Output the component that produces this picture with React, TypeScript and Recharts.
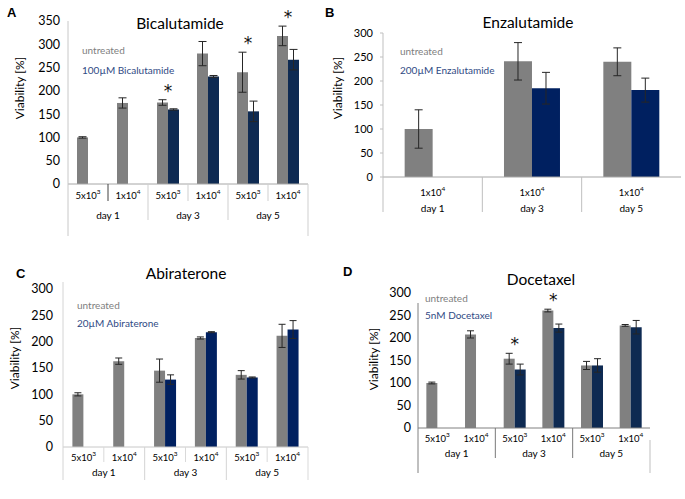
import React from 'react';
import { ComposedChart, Bar, XAxis, YAxis, ErrorBar, LabelList } from 'recharts';

const FONT = 'Lato, "Open Sans", sans-serif';
const GRAY = '#808080';
const NAVY = '#0e2a52';
const DARK_BLUE = '#002060';
const LEGEND_BLUE = '#2f4a84';

// ---- A: Bicalutamide ----
const sizesA = ['5x10^3', '1x10^4', '5x10^3', '1x10^4', '5x10^3', '1x10^4'];
const daysA = ['day 1', 'day 3', 'day 5'];
const untreatedA = [100, 174, 175, 280, 240, 318];
const untreatedErrA = [1.5, 11, 6, 26, 43, 21];
const bicaA = [null, null, 160, 231, 156, 267];
const bicaErrA = [null, null, 1.5, 2, 22, 22];
const starsA = [false, false, true, false, true, true];
const ticksA = [0, 50, 100, 150, 200, 250, 300, 350];

// ---- B: Enzalutamide ----
const sizesB = ['1x10^4', '1x10^4', '1x10^4'];
const daysB = ['day 1', 'day 3', 'day 5'];
const untreatedB = [100, 241, 240];
const untreatedErrB = [40, 39, 29];
const enzaB = [null, 185, 181];
const enzaErrB = [null, 33, 25];
const ticks300 = [0, 50, 100, 150, 200, 250, 300];

// ---- C: Abiraterone ----
const sizesC = ['5x10^3', '1x10^4', '5x10^3', '1x10^4', '5x10^3', '1x10^4'];
const daysC = ['day 1', 'day 3', 'day 5'];
const untreatedC = [100, 163, 145, 207, 137, 211];
const untreatedErrC = [3, 6, 22, 2, 8, 22];
const abiC = [null, null, 128, 218, 132, 223];
const abiErrC = [null, null, 9, 1, 1, 17];

// ---- D: Docetaxel ----
const sizesD = ['5x10^3', '1x10^4', '5x10^3', '1x10^4', '5x10^3', '1x10^4'];
const daysD = ['day 1', 'day 3', 'day 5'];
const untreatedD = [100, 208, 154, 261, 139, 228];
const untreatedErrD = [2, 8, 12, 3, 9, 2];
const doceD = [null, null, 130, 222, 139, 224];
const doceErrD = [null, null, 12, 9, 15, 15];
const starsD = [false, false, true, true, false, false];

type Frame = {
  axisTop: number;
  leftBottom: number;
  innerBottom?: number;
  dayBottom: number;
  rightTop?: number;
  axisColor: string;
  dayColor: string;
  innerColor: string;
  firstInnerColor?: string;
  sizeY: number;
  dayY: number;
};

type Panel = {
  left: number;
  top: number;
  width: number;
  height: number;
  margin: { top: number; right: number; bottom: number; left: number };
  yWidth: number;
  yMax: number;
  yTicks: number[];
  yFont: number;
  tickSize: number;
  tickMargin: number;
  yTickLine: boolean;
  xAxisHeight: number;
  gap: string;
  blue: string;
  capW: number;
  sizes: string[];
  days: string[];
  perDay: number;
  untreated: (number | null)[];
  untreatedErr: (number | null)[];
  treated: (number | null)[];
  treatedErr: (number | null)[];
  stars?: boolean[];
  frame: Frame;
  baseColor: string;
};

// category tick: cell-size label with superscript, day label under each group, and the
// Excel-style separator lines of a two-level category axis
function SizeTick(p: Panel) {
  const n = p.sizes.length;
  const plotL = p.margin.left + p.yWidth;
  const plotR = p.width - p.margin.right;
  const plotB = p.height - p.margin.bottom - p.xAxisHeight;
  const slot = (plotR - plotL) / n;
  const f = p.frame;
  return (props: any) => {
    const { x, index } = props;
    const [base, exp] = p.sizes[index].split('^');
    const left = x - slot / 2;
    const right = x + slot / 2;
    const first = index % p.perDay === 0;
    const last = index % p.perDay === p.perDay - 1;
    let sep = null;
    if (index === 0) {
      sep = <line x1={left} x2={left} y1={f.axisTop} y2={f.leftBottom} stroke={f.axisColor} />;
    } else if (first) {
      sep = <line x1={left} x2={left} y1={plotB} y2={f.dayBottom} stroke={f.dayColor} />;
    } else if (f.innerBottom) {
      sep = (
        <line x1={left} x2={left} y1={plotB} y2={f.innerBottom}
          stroke={index === 1 && f.firstInnerColor ? f.firstInnerColor : f.innerColor} />
      );
    }
    return (
      <g>
        {sep}
        {index === n - 1 && f.rightTop != null ? (
          <line x1={right} x2={right} y1={f.rightTop} y2={f.leftBottom} stroke={f.innerColor} />
        ) : null}
        <text x={x} y={f.sizeY} textAnchor="middle" dominantBaseline="central" fontSize={9.5} fontFamily={FONT} fill="#000">
          {base}
          <tspan dy={-4} fontSize={6.5}>{exp}</tspan>
        </text>
        {last ? (
          <text x={x - ((p.perDay - 1) * slot) / 2} y={f.dayY} textAnchor="middle" dominantBaseline="central"
            fontSize={10} fontFamily={FONT} fill="#000">
            {p.days[Math.floor(index / p.perDay)]}
          </text>
        ) : null}
      </g>
    );
  };
}

function Chart({ p }: { p: Panel }) {
  const data = p.sizes.map((s, i) => ({
    key: String(i),
    g: p.untreated[i],
    gErr: p.untreatedErr[i],
    b: p.treated[i],
    bErr: p.treatedErr[i],
  }));
  // significance star above the pair, just over the untreated error bar
  const star = (props: any) => {
    const { x, y, width, height, value, index } = props;
    if (!p.stars || !p.stars[index] || !value) return null;
    const k = height / value;
    const errTop = y - (p.untreatedErr[index] || 0) * k;
    return (
      <text x={x + width} y={errTop - 3} textAnchor="middle" fontSize={17}
        fontFamily='"DejaVu Sans", sans-serif' fill="#111" style={{ fill: '#111' }}>*</text>
    );
  };
  return (
    <div style={{ position: 'absolute', left: p.left, top: p.top }}>
      <ComposedChart width={p.width} height={p.height} data={data} margin={p.margin}
        barGap={0} barCategoryGap={p.gap}>
        <XAxis dataKey="key" height={p.xAxisHeight} interval={0} tickLine={false}
          axisLine={{ stroke: p.baseColor }} tick={SizeTick(p)} />
        <YAxis domain={[0, p.yMax]} ticks={p.yTicks} width={p.yWidth} allowDataOverflow
          axisLine={false} tickLine={p.yTickLine ? { stroke: '#bfbfbf' } : false}
          tickSize={p.tickSize} tickMargin={p.tickMargin}
          tick={{ fontSize: p.yFont, fill: '#000', fontFamily: FONT }} />
        <Bar dataKey="g" fill={GRAY} isAnimationActive={false}>
          <ErrorBar dataKey="gErr" width={p.capW} stroke="#262626" strokeWidth={1} direction="y" isAnimationActive={false} />
          <LabelList dataKey="g" content={star} />
        </Bar>
        <Bar dataKey="b" fill={p.blue} isAnimationActive={false}>
          <ErrorBar dataKey="bErr" width={p.capW} stroke="#262626" strokeWidth={1} direction="y" isAnimationActive={false} />
        </Bar>
      </ComposedChart>
    </div>
  );
}

function Txt(props: {
  x: number; y: number; size: number; children: React.ReactNode;
  color?: string; center?: boolean; bold?: boolean; rotate?: boolean; family?: string;
}) {
  const { x, y, size, children, color = '#000', center, bold, rotate, family = FONT } = props;
  const transform = rotate ? 'translate(-50%,-50%) rotate(-90deg)' : center ? 'translate(-50%,-50%)' : 'translate(0,-50%)';
  return (
    <div style={{
      position: 'absolute', left: x, top: y, transform, fontSize: size, color, fontFamily: family,
      fontWeight: bold ? 700 : 400, whiteSpace: 'nowrap', lineHeight: 1,
    }}>
      {children}
    </div>
  );
}

const panelA: Panel = {
  left: 0, top: 0, width: 320, height: 245,
  margin: { top: 21, right: 12, bottom: 0, left: 8 },
  yWidth: 60, yMax: 350, yTicks: ticksA, yFont: 12.5, tickSize: 6, tickMargin: 2, yTickLine: false,
  xAxisHeight: 61, gap: '22.5%', blue: NAVY, capW: 4,
  sizes: sizesA, days: daysA, perDay: 2,
  untreated: untreatedA, untreatedErr: untreatedErrA, treated: bicaA, treatedErr: bicaErrA, stars: starsA,
  baseColor: '#a6a6a6',
  frame: {
    axisTop: 21, leftBottom: 236, innerBottom: 201, dayBottom: 220, rightTop: 184,
    axisColor: '#c8c8c8', dayColor: '#cfcfcf', innerColor: '#cfcfcf', firstInnerColor: '#404040',
    sizeY: 195, dayY: 215,
  },
};

const panelB: Panel = {
  left: 340, top: 0, width: 345, height: 245,
  margin: { top: 33, right: 4, bottom: 0, left: 5 },
  yWidth: 38, yMax: 300, yTicks: ticks300, yFont: 11, tickSize: 3, tickMargin: 7, yTickLine: true,
  xAxisHeight: 68, gap: '21.8%', blue: DARK_BLUE, capW: 4,
  sizes: sizesB, days: daysB, perDay: 1,
  untreated: untreatedB, untreatedErr: untreatedErrB, treated: enzaB, treatedErr: enzaErrB,
  baseColor: '#a6a6a6',
  frame: {
    axisTop: 33, leftBottom: 212, dayBottom: 212,
    axisColor: '#bfbfbf', dayColor: '#bfbfbf', innerColor: '#bfbfbf',
    sizeY: 192, dayY: 208,
  },
};

const panelC: Panel = {
  left: 0, top: 250, width: 320, height: 249,
  margin: { top: 39, right: 12, bottom: 0, left: 3 },
  yWidth: 60, yMax: 300, yTicks: ticks300, yFont: 12.5, tickSize: 6, tickMargin: 4, yTickLine: false,
  xAxisHeight: 52, gap: '23%', blue: DARK_BLUE, capW: 3.5,
  sizes: sizesC, days: daysC, perDay: 2,
  untreated: untreatedC, untreatedErr: untreatedErrC, treated: abiC, treatedErr: abiErrC,
  baseColor: '#c8c8c8',
  frame: {
    axisTop: 32, leftBottom: 230, innerBottom: 212, dayBottom: 230, rightTop: 197,
    axisColor: '#d4d4d4', dayColor: '#d4d4d4', innerColor: '#d9d9d9',
    sizeY: 207, dayY: 222,
  },
};

const panelD: Panel = {
  left: 340, top: 250, width: 345, height: 249,
  margin: { top: 43, right: 35, bottom: 0, left: 18 },
  yWidth: 60, yMax: 300, yTicks: ticks300, yFont: 12.5, tickSize: 6, tickMargin: 1, yTickLine: false,
  xAxisHeight: 71, gap: '21.6%', blue: NAVY, capW: 3.5,
  sizes: sizesD, days: daysD, perDay: 2,
  untreated: untreatedD, untreatedErr: untreatedErrD, treated: doceD, treatedErr: doceErrD, stars: starsD,
  baseColor: '#808080',
  frame: {
    axisTop: 53, leftBottom: 223, dayBottom: 208, rightTop: 190,
    axisColor: '#808080', dayColor: '#7a7a7a', innerColor: '#bfbfbf',
    sizeY: 188, dayY: 203,
  },
};

export default function App() {
  return (
    <div style={{ position: 'absolute', left: 0, top: 0, width: 685, height: 499, background: '#fff', overflow: 'hidden' }}>
      <Chart p={panelA} />
      <Chart p={panelB} />
      <Chart p={panelC} />
      <Chart p={panelD} />

      <Txt x={7} y={12} size={13} bold family='"Liberation Sans", Arial, sans-serif'>A</Txt>
      <Txt x={325} y={12} size={13} bold family='"Liberation Sans", Arial, sans-serif'>B</Txt>
      <Txt x={16} y={273} size={13} bold family='"Liberation Sans", Arial, sans-serif'>C</Txt>
      <Txt x={343} y={271} size={13} bold family='"Liberation Sans", Arial, sans-serif'>D</Txt>

      <Txt x={180} y={24} size={15.5} center>Bicalutamide</Txt>
      <Txt x={528} y={23} size={15.5} center>Enzalutamide</Txt>
      <Txt x={186} y={274} size={15.5} center>Abiraterone</Txt>
      <Txt x={541} y={280} size={15.5} center>Docetaxel</Txt>

      <Txt x={20} y={88} size={12} rotate>Viability [%]</Txt>
      <Txt x={338} y={88} size={12} rotate>Viability [%]</Txt>
      <Txt x={15} y={358} size={12} rotate>Viability [%]</Txt>
      <Txt x={374} y={359} size={12} rotate>Viability [%]</Txt>

      <Txt x={82} y={50} size={10} color={GRAY}>untreated</Txt>
      <Txt x={82} y={70} size={10} color={LEGEND_BLUE}>100µM Bicalutamide</Txt>
      <Txt x={400} y={51} size={10} color={GRAY}>untreated</Txt>
      <Txt x={400} y={70} size={10} color={LEGEND_BLUE}>200µM Enzalutamide</Txt>
      <Txt x={77} y={305} size={10} color={GRAY}>untreated</Txt>
      <Txt x={77} y={323} size={10} color={LEGEND_BLUE}>20µM Abiraterone</Txt>
      <Txt x={425} y={298} size={10} color={GRAY}>untreated</Txt>
      <Txt x={425} y={315} size={10} color={LEGEND_BLUE}>5nM Docetaxel</Txt>
    </div>
  );
}
